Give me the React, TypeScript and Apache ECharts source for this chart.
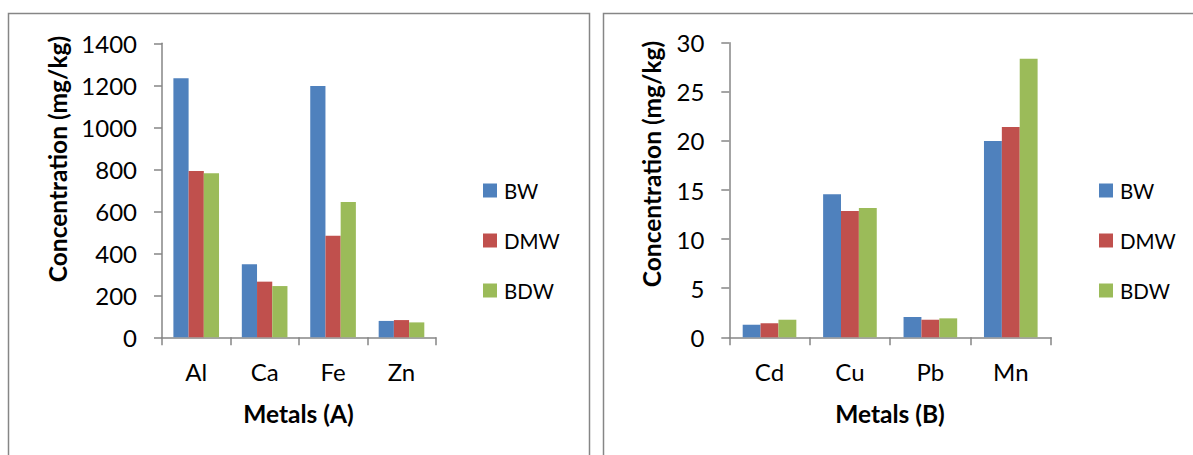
import React, { useEffect, useRef } from "react";
import * as echarts from "echarts";

const seriesNames = ["BW", "DMW", "BDW"];
const colors = ["#4F81BD", "#C0504D", "#9BBB59"];

const categoriesA = ["Al", "Ca", "Fe", "Zn"];
const bwA = [1233, 348, 1197, 78];
const dmwA = [792, 265, 484, 82];
const bdwA = [781, 244, 644, 71];

const categoriesB = ["Cd", "Cu", "Pb", "Mn"];
const bwB = [1.28, 14.56, 2.07, 19.99];
const dmwB = [1.43, 12.86, 1.79, 21.42];
const bdwB = [1.79, 13.17, 1.93, 28.37];

const yTitle = "Concentration (mg/kg)";
const xTitleA = "Metals (A)";
const xTitleB = "Metals (B)";

const FONT = "Lato, 'Open Sans', sans-serif";
const AXIS_COLOR = "#868686";

export default function App() {
  const ref = useRef<HTMLDivElement>(null);

  useEffect(() => {
    if (!ref.current) return;
    const chart = echarts.init(ref.current, undefined, { renderer: "svg" });

    const makeX = (gridIndex: number, data: string[]) => ({
      type: "category",
      gridIndex,
      data,
      boundaryGap: true,
      axisLine: { show: true, lineStyle: { color: AXIS_COLOR, width: 1.5 } },
      axisTick: { show: true, length: 8, inside: false, alignWithLabel: false, lineStyle: { color: AXIS_COLOR, width: 1.5 } },
      axisLabel: { color: "#000", fontFamily: FONT, fontSize: 24, margin: 22 },
      splitLine: { show: false },
    });
    const makeY = (gridIndex: number, max: number, interval: number) => ({
      type: "value",
      gridIndex,
      min: 0,
      max,
      interval,
      axisLine: { show: true, lineStyle: { color: AXIS_COLOR, width: 1.5 } },
      axisTick: { show: true, length: 8, inside: false, lineStyle: { color: AXIS_COLOR, width: 1.5 } },
      axisLabel: { color: "#000", fontFamily: FONT, fontSize: 24, margin: 25, formatter: (v: number) => String(v) },
      splitLine: { show: false },
    });

    const dataA = [bwA, dmwA, bdwA];
    const dataB = [bwB, dmwB, bdwB];
    const series: any[] = [];
    dataA.forEach((d, i) =>
      series.push({
        type: "bar",
        name: seriesNames[i],
        xAxisIndex: 0,
        yAxisIndex: 0,
        data: d,
        barGap: "0%",
        barCategoryGap: "33.3%",
        itemStyle: { color: colors[i] },
      })
    );
    dataB.forEach((d, i) =>
      series.push({
        type: "bar",
        name: seriesNames[i],
        xAxisIndex: 1,
        yAxisIndex: 1,
        data: d,
        barGap: "0%",
        barCategoryGap: "33.3%",
        itemStyle: { color: colors[i] },
      })
    );

    const legendBase = {
      orient: "vertical",
      top: 175,
      itemWidth: 14,
      itemHeight: 14,
      itemGap: 29,
      icon: "rect",
      selectedMode: false,
      textStyle: { color: "#000", fontFamily: FONT, fontSize: 20.5, padding: [0, 0, 0, 2] },
      data: seriesNames,
    };

    const titleFont = `bold 24.5px ${FONT}`;

    chart.setOption({
      animation: false,
      backgroundColor: "#fff",
      grid: [
        { left: 162, top: 43.3, width: 273.7, height: 294, outerBoundsMode: "none" },
        { left: 729.3, top: 42.7, width: 321.7, height: 294.6, outerBoundsMode: "none" },
      ],
      xAxis: [makeX(0, categoriesA), makeX(1, categoriesB)],
      yAxis: [makeY(0, 1400, 200), makeY(1, 30, 5)],
      legend: [
        { ...legendBase, left: 478 },
        { ...legendBase, left: 1094 },
      ],
      series,
      graphic: [
        {
          type: "rect",
          shape: { x: 8.5, y: 13.5, width: 581, height: 460 },
          style: { fill: "none", stroke: AXIS_COLOR, lineWidth: 1.5 },
          silent: true,
          z: -1,
        },
        {
          type: "rect",
          shape: { x: 603.5, y: 13.5, width: 600, height: 460 },
          style: { fill: "none", stroke: AXIS_COLOR, lineWidth: 1.5 },
          silent: true,
          z: -1,
        },
        {
          type: "text",
          x: 57,
          y: 159,
          rotation: Math.PI / 2,
          style: { text: yTitle, fill: "#000", font: titleFont, textAlign: "center", textVerticalAlign: "middle" },
        },
        {
          type: "text",
          x: 651,
          y: 164,
          rotation: Math.PI / 2,
          style: { text: yTitle, fill: "#000", font: titleFont, textAlign: "center", textVerticalAlign: "middle" },
        },
        {
          type: "text",
          x: 298.5,
          y: 413,
          style: { text: xTitleA, fill: "#000", font: titleFont, textAlign: "center", textVerticalAlign: "middle" },
        },
        {
          type: "text",
          x: 890,
          y: 413,
          style: { text: xTitleB, fill: "#000", font: titleFont, textAlign: "center", textVerticalAlign: "middle" },
        },
      ],
    });

    return () => chart.dispose();
  }, []);

  return <div ref={ref} style={{ position: "absolute", left: 0, top: 0, width: 1193, height: 455 }} />;
}
